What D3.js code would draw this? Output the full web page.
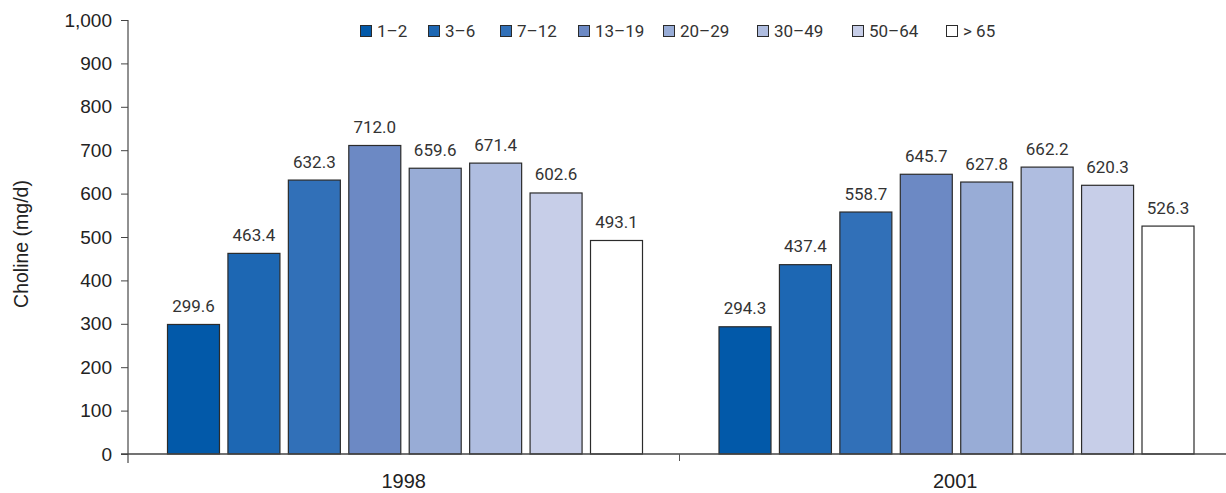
<!DOCTYPE html>
<html>
<head>
<meta charset="utf-8">
<script src="https://cdn.jsdelivr.net/npm/d3@7"></script>
<style>
  html, body { margin: 0; padding: 0; background: #fff; }
  svg { display: block; }
</style>
</head>
<body>
<svg id="chart" width="1226" height="493"></svg>
<script>
// Choline intake (mg/d) by age group, survey years 1998 and 2001
const years = ["1998", "2001"];
const ageGroups = ["1–2", "3–6", "7–12", "13–19", "20–29", "30–49", "50–64", "> 65"];
const values1998 = [299.6, 463.4, 632.3, 712.0, 659.6, 671.4, 602.6, 493.1];
const values2001 = [294.3, 437.4, 558.7, 645.7, 627.8, 662.2, 620.3, 526.3];
const yTicks = [0, 100, 200, 300, 400, 500, 600, 700, 800, 900, 1000];
const colors = ["#0259a9", "#1d67b3", "#3170b8", "#6c89c4", "#98acd6", "#afbde0", "#c7cee8", "#ffffff"];

const seriesByYear = { "1998": values1998, "2001": values2001 };
const rows = years.map(y => ({
  year: y,
  bars: ageGroups.map((g, i) => ({ group: g, value: seriesByYear[y][i] }))
}));

const svg = d3.select("#chart");
const margin = { left: 128, top: 20, bottom: 454, right: 1231 };

const y = d3.scaleLinear().domain([0, 1000]).range([margin.bottom, margin.top]);
const x0 = d3.scaleBand().domain(years).range([margin.left, margin.right]);
const groupInset = 39, groupWidth = 476;
const x1 = d3.scaleBand().domain(ageGroups)
  .range([groupInset, groupInset + groupWidth]).paddingInner(0.123);
const color = d3.scaleOrdinal().domain(ageGroups).range(colors);

const tickFont = "'Liberation Sans', Arial, sans-serif";
const labelFont = "Roboto, 'Noto Sans', sans-serif";

// bars
const groups = svg.append("g").selectAll("g").data(rows).join("g")
  .attr("transform", d => `translate(${x0(d.year)},0)`);

groups.selectAll("rect").data(d => d.bars).join("rect")
  .attr("x", d => x1(d.group) + 0.5)
  .attr("y", d => y(d.value) + 0.5)
  .attr("width", x1.bandwidth() - 1)
  .attr("height", d => y(0) - y(d.value) - 0.5)
  .attr("fill", d => color(d.group))
  .attr("stroke", "#2b2b2b")
  .attr("stroke-width", 1.2);

groups.selectAll("text").data(d => d.bars).join("text")
  .attr("x", d => x1(d.group) + x1.bandwidth() / 2)
  .attr("y", d => y(d.value) - 12)
  .attr("text-anchor", "middle")
  .attr("font-family", labelFont)
  .attr("font-size", 17)
  .attr("fill", "#333")
  .text(d => d.value.toFixed(1));

// y axis
const yAxis = svg.append("g")
  .attr("transform", `translate(${margin.left},0)`)
  .call(d3.axisLeft(y).tickValues(yTicks).tickSize(7).tickPadding(9)
    .tickFormat(d3.format(",")));
yAxis.select(".domain").attr("stroke", "#222").attr("d", `M0,${margin.top}V${margin.bottom + 9}`);
yAxis.selectAll(".tick line").attr("stroke", "#444");
yAxis.selectAll(".tick text")
  .attr("font-family", tickFont).attr("font-size", 19).attr("fill", "#222");

// x axis with boundary ticks between the year groups
const xAxis = svg.append("g").attr("transform", `translate(0,${margin.bottom})`);
xAxis.append("line")
  .attr("x1", margin.left - 7).attr("x2", margin.right)
  .attr("stroke", "#444").attr("stroke-width", 1.5);
xAxis.selectAll(".bound").data(years.slice(1)).join("line")
  .attr("x1", d => x0(d)).attr("x2", d => x0(d))
  .attr("y1", 0).attr("y2", 7)
  .attr("stroke", "#555");
xAxis.selectAll("text").data(years).join("text")
  .attr("x", d => x0(d) + x0.bandwidth() / 2)
  .attr("y", 34)
  .attr("text-anchor", "middle")
  .attr("font-family", tickFont).attr("font-size", 20).attr("fill", "#222")
  .text(d => d);

// y axis title
svg.append("text")
  .attr("transform", `translate(28,${(margin.top + margin.bottom) / 2 + 7}) rotate(-90)`)
  .attr("text-anchor", "middle")
  .attr("font-family", tickFont).attr("font-size", 19.5).attr("fill", "#222")
  .text("Choline (mg/d)");

// legend
const legendX = [360, 428, 500, 578, 663, 757, 852, 946];
const legend = svg.append("g").selectAll("g").data(ageGroups).join("g")
  .attr("transform", (d, i) => `translate(${legendX[i]},25)`);
legend.append("rect")
  .attr("x", 0.5).attr("y", 0.5).attr("width", 11).attr("height", 11)
  .attr("fill", d => color(d)).attr("stroke", "#2b2b2b").attr("stroke-width", 1);
legend.append("text")
  .attr("x", 17).attr("y", 12)
  .attr("font-family", labelFont).attr("font-size", 17).attr("fill", "#333")
  .text(d => d);
</script>
</body>
</html>
